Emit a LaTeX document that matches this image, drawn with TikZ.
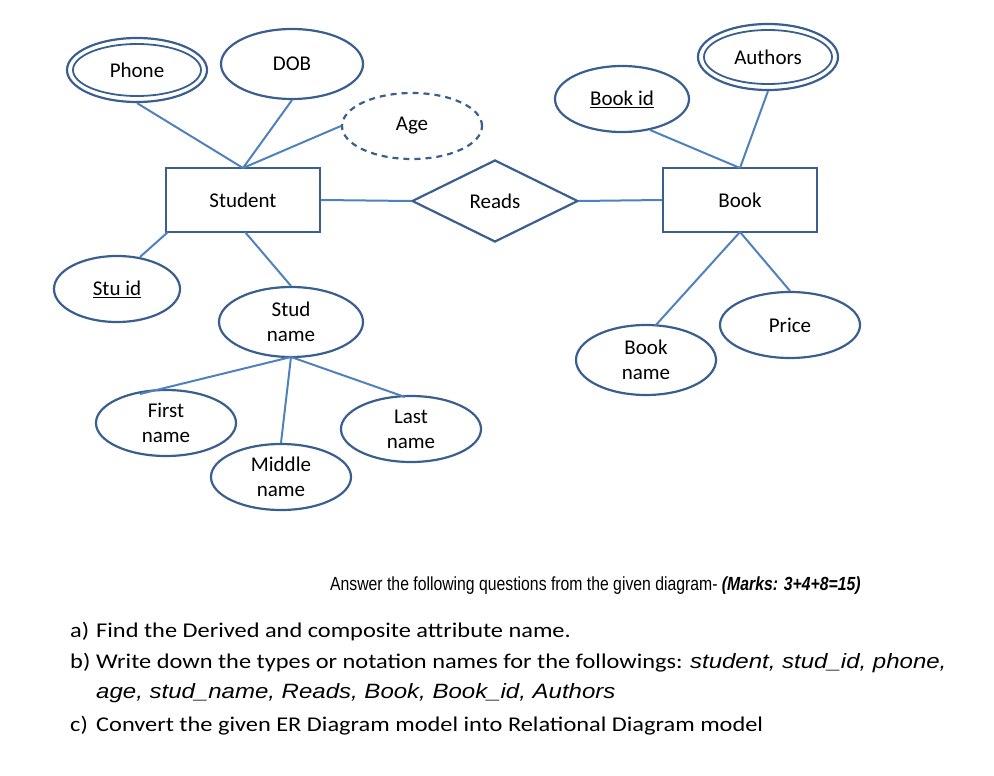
\documentclass[tikz,border=0pt]{standalone}
\usepackage{fontspec}
\setmainfont{Carlito}
\newfontfamily\arial{Liberation Sans}
\usetikzlibrary{shapes.geometric}
\definecolor{edgeb}{HTML}{3A5F8F}
\definecolor{lineb}{HTML}{4F81BD}
\begin{document}
\begin{tikzpicture}[x=1pt,y=-1pt,
  attr/.style={ellipse,draw=edgeb,line width=2.2pt,inner sep=0pt,font=\fontsize{21}{25}\selectfont,align=center},
  ent/.style={rectangle,draw=edgeb,line width=2.2pt,minimum width=154pt,minimum height=64pt,font=\fontsize{21}{25}\selectfont},
  rel/.style={diamond,draw=edgeb,line width=2.2pt,minimum width=166pt,minimum height=82pt,aspect=2,inner sep=0pt,font=\fontsize{21}{25}\selectfont},
  con/.style={draw=lineb,line width=2pt},
  q/.style={anchor=base west,inner sep=0pt,xscale=1.16,transform shape,font=\fontsize{21}{25}\selectfont}]
\useasboundingbox (0,0) rectangle (994,776);
\node[attr,minimum width=140pt,minimum height=64pt] (phone) at (137,70) {};
\node[attr,minimum width=128pt,minimum height=52pt,line width=1.8pt] (phonei) at (137,70) {Phone};
\node[attr,minimum width=142pt,minimum height=70pt] (dob) at (292,64) {DOB};
\node[attr,dashed,dash pattern=on 6pt off 5pt,minimum width=140pt,minimum height=66pt] (age) at (412,126) {Age};
\node[ent] (student) at (243,200) {Student};
\node[rel] (reads) at (495,201) {Reads};
\node[ent] (book) at (740,200) {Book};
\node[attr,minimum width=134pt,minimum height=66pt] (bookid) at (622,99) {\underline{Book id}};
\node[attr,minimum width=140pt,minimum height=66pt] (authors) at (768,57) {};
\node[attr,minimum width=128pt,minimum height=54pt,line width=1.8pt] (authorsi) at (768,57) {Authors};
\node[attr,minimum width=126pt,minimum height=66pt] (stuid) at (117,289) {\underline{Stu id}};
\node[attr,minimum width=144pt,minimum height=70pt] (studname) at (291,322) {Stud\\name};
\node[attr,minimum width=140pt,minimum height=66pt] (price) at (790,325) {Price};
\node[attr,minimum width=140pt,minimum height=70pt] (bookname) at (646,360) {Book\\name};
\node[attr,minimum width=140pt,minimum height=66pt] (first) at (166,423) {First\\name};
\node[attr,minimum width=140pt,minimum height=66pt] (last) at (411,429) {Last\\name};
\node[attr,minimum width=140pt,minimum height=66pt] (middle) at (281,477) {Middle\\name};
\coordinate (stop) at (243,168);
\coordinate (sbot) at (245,232);
\coordinate (btop) at (740,168);
\coordinate (bbot) at (740,232);
\coordinate (snb) at (291,357);
\coordinate (bidb) at (650,130);
\coordinate (sbl) at (168,232);
\coordinate (stt) at (140,257);
\coordinate (bnt) at (655,326);
\coordinate (fnt) at (140,394);
\coordinate (lnt) at (405,397);
\draw[con] (phone.south) -- (stop);
\draw[con] (dob.south) -- (stop);
\draw[con] (age.west) -- (stop);
\draw[con] (student.east) -- (reads.west);
\draw[con] (reads.east) -- (book.west);
\draw[con] (bidb) -- (btop);
\draw[con] (authors.south) -- (btop);
\draw[con] (sbl) -- (stt);
\draw[con] (sbot) -- (studname.north);
\draw[con] (bbot) -- (bnt);
\draw[con] (bbot) -- (price.north);
\draw[con] (snb) -- (fnt);
\draw[con] (snb) -- (middle.north);
\draw[con] (snb) -- (lnt);
\node[anchor=base west,inner sep=0pt,xscale=0.83,transform shape,font=\arial\fontsize{19}{22}\selectfont] (qh) at (330,590) {Answer the following questions from the given diagram- \textbf{\textit{(Marks: 3+4+8=15)}}};
\node[q] (qa) at (70,637) {a)};
\node[q] (qat) at (96,637) {Find the Derived and composite attribute name.};
\node[q] (qb) at (70,668) {b)};
\node[q] (qbt) at (96,668) {Write down the types or notation names for the followings: {\arial\itshape\fontsize{20.7}{24}\selectfont student, stud\_id, phone,}};
\node[q] (qbt2) at (96,698) {\arial\itshape\fontsize{20.7}{24}\selectfont age, stud\_name, Reads, Book, Book\_id, Authors};
\node[q] (qc) at (70,731) {c)};
\node[q] (qct) at (96,731) {Convert the given ER Diagram model into Relational Diagram model};
\end{tikzpicture}
\end{document}
